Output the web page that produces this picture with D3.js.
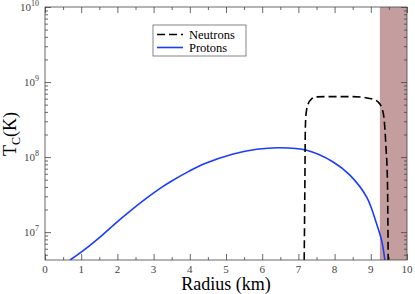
<!DOCTYPE html>
<html>
<head>
<meta charset="utf-8">
<script src="https://cdn.jsdelivr.net/npm/d3@7"></script>
<style>
  body { margin: 0; background: #fff; }
  svg { display: block; font-family: "Liberation Serif", "DejaVu Serif", serif; }
</style>
</head>
<body>
<svg id="chart" width="415" height="294"></svg>
<script>
// --- Data ------------------------------------------------------------
const protonR  = [0.69, 1.0, 1.47, 1.93, 2.3, 2.76, 3.22, 3.5, 3.96, 4.42, 5.2, 5.85, 6.49, 7.23, 7.96, 8.43, 8.89, 9.16, 9.3, 9.39];
const protonTc = [4.25e6, 5.4e6, 8.2e6, 1.29e7, 1.82e7, 2.73e7, 3.94e7, 4.8e7, 6.4e7, 8.2e7, 1.1e8, 1.27e8, 1.33e8, 1.23e8, 8.6e7, 5.7e7, 2.9e7, 1.29e7, 7.7e6, 4.25e6];

const neutronR  = [7.16, 7.18, 7.19, 7.21, 7.27, 7.37, 7.5, 8.0, 8.5, 9.07, 9.25, 9.35, 9.42, 9.46, 9.48];
const neutronTc = [4.25e6, 5e7, 2.2e8, 3.7e8, 5.1e8, 6.0e8, 6.35e8, 6.4e8, 6.4e8, 5.9e8, 5.1e8, 3.7e8, 1.33e8, 4.8e7, 4.25e6];

const crustStart = 9.25;          // shaded outer region (km)
const xTicks = d3.range(0, 11, 1);
const yExps = [7, 8, 9, 10];
const legendItems = [
  { label: 'Neutrons', color: '#000', dash: '8,4' },
  { label: 'Protons',  color: '#1a3cff', dash: null },
];

// --- Layout ----------------------------------------------------------
const margin = { top: 7, right: 8, bottom: 34, left: 45 };
const W = 415, H = 294;
const iw = W - margin.left - margin.right;
const ih = H - margin.top - margin.bottom;

const svg = d3.select('#chart');
const g = svg.append('g').attr('transform', `translate(${margin.left},${margin.top})`);

const x = d3.scaleLinear().domain([0, 10]).range([0, iw]);
const y = d3.scaleLog().domain([4.25e6, 1e10]).range([ih, 0]);

g.append('defs').append('clipPath').attr('id', 'clip')
  .append('rect').attr('width', iw).attr('height', ih);

// shaded crust
g.append('rect')
  .attr('x', x(crustStart)).attr('y', 0)
  .attr('width', x(10) - x(crustStart)).attr('height', ih)
  .attr('fill', '#c49e9e');

// --- Curves ----------------------------------------------------------
const smoothLine = d3.line()
  .x(d => x(d[0]))
  .y(d => y(d[1]))
  .curve(d3.curveCatmullRom.alpha(0.5));

// neutron curve has sharp shoulders, monotone keeps them from overshooting
const stepLine = d3.line()
  .x(d => x(d[0]))
  .y(d => y(d[1]))
  .curve(d3.curveMonotoneX);

const plot = g.append('g').attr('clip-path', 'url(#clip)');

plot.append('path')
  .datum(d3.zip(protonR, protonTc))
  .attr('d', smoothLine)
  .attr('fill', 'none')
  .attr('stroke', legendItems[1].color)
  .attr('stroke-width', 1.6);

plot.append('path')
  .datum(d3.zip(neutronR, neutronTc))
  .attr('d', stepLine)
  .attr('fill', 'none')
  .attr('stroke', legendItems[0].color)
  .attr('stroke-width', 1.6)
  .attr('stroke-dasharray', legendItems[0].dash);

// --- Axes (ticks pointing inward, mirrored) --------------------------
const xMinor = d3.range(0.5, 10, 1);
const yMinor = [];
for (let e = 6; e < 10; e++) for (let m = 2; m <= 9; m++) {
  const v = m * Math.pow(10, e);
  if (v >= 4.25e6 && v <= 1e10) yMinor.push(v);
}

function tickFmt() { return ''; }

g.append('g').attr('transform', `translate(0,${ih})`)
  .call(d3.axisBottom(x).tickValues(xTicks).tickSize(-6).tickFormat(tickFmt));
g.append('g').attr('transform', `translate(0,${ih})`)
  .call(d3.axisBottom(x).tickValues(xMinor).tickSize(-3).tickFormat(tickFmt));
g.append('g')
  .call(d3.axisTop(x).tickValues(xTicks).tickSize(-6).tickFormat(tickFmt));
g.append('g')
  .call(d3.axisTop(x).tickValues(xMinor).tickSize(-3).tickFormat(tickFmt));

const yMajor = yExps.map(e => Math.pow(10, e));
g.append('g').call(d3.axisLeft(y).tickValues(yMajor).tickSize(-6).tickFormat(tickFmt));
g.append('g').call(d3.axisLeft(y).tickValues(yMinor).tickSize(-3).tickFormat(tickFmt));
g.append('g').attr('transform', `translate(${iw},0)`)
  .call(d3.axisRight(y).tickValues(yMajor).tickSize(-6).tickFormat(tickFmt));
g.append('g').attr('transform', `translate(${iw},0)`)
  .call(d3.axisRight(y).tickValues(yMinor).tickSize(-3).tickFormat(tickFmt));

g.selectAll('.domain').remove();
g.selectAll('.tick line').attr('stroke', '#444').attr('stroke-width', 0.8);

g.append('rect').attr('width', iw).attr('height', ih)
  .attr('fill', 'none').attr('stroke', '#444').attr('stroke-width', 0.8);

// tick labels
g.selectAll('.xlab').data(xTicks).join('text')
  .attr('class', 'xlab')
  .attr('x', d => x(d)).attr('y', ih + 13)
  .attr('text-anchor', 'middle')
  .attr('font-size', 11).attr('fill', '#444')
  .text(d => d);

const ylab = g.selectAll('.ylab').data(yExps).join('text')
  .attr('class', 'ylab')
  .attr('x', -6).attr('y', d => y(Math.pow(10, d)) + 4)
  .attr('text-anchor', 'end')
  .attr('font-size', 11).attr('fill', '#444');
ylab.append('tspan').text('10');
ylab.append('tspan').attr('dy', -5).attr('font-size', 8).text(d => d);

// axis titles
svg.append('text')
  .attr('x', margin.left + iw / 2).attr('y', H - 4)
  .attr('text-anchor', 'middle').attr('font-size', 18)
  .text('Radius (km)');

const yt = svg.append('text')
  .attr('transform', `translate(16,${margin.top + 127}) rotate(-90)`)
  .attr('text-anchor', 'middle').attr('font-size', 18);
yt.append('tspan').text('T');
yt.append('tspan').attr('dy', 4).attr('font-size', 12).text('C');
yt.append('tspan').attr('dy', -4).text('(K)');

// --- Legend ----------------------------------------------------------
const lg = svg.append('g').attr('transform', 'translate(153,25)');
lg.append('rect').attr('width', 93).attr('height', 31)
  .attr('fill', '#fff').attr('stroke', '#666').attr('stroke-width', 0.8);
legendItems.forEach((d, i) => {
  const yy = 9.5 + i * 13;
  lg.append('line')
    .attr('x1', 4).attr('x2', 30).attr('y1', yy).attr('y2', yy)
    .attr('stroke', d.color).attr('stroke-width', 1.6)
    .attr('stroke-dasharray', d.dash);
  lg.append('text')
    .attr('x', 36).attr('y', yy + 4)
    .attr('font-size', 12.5)
    .text(d.label);
});
</script>
</body>
</html>
